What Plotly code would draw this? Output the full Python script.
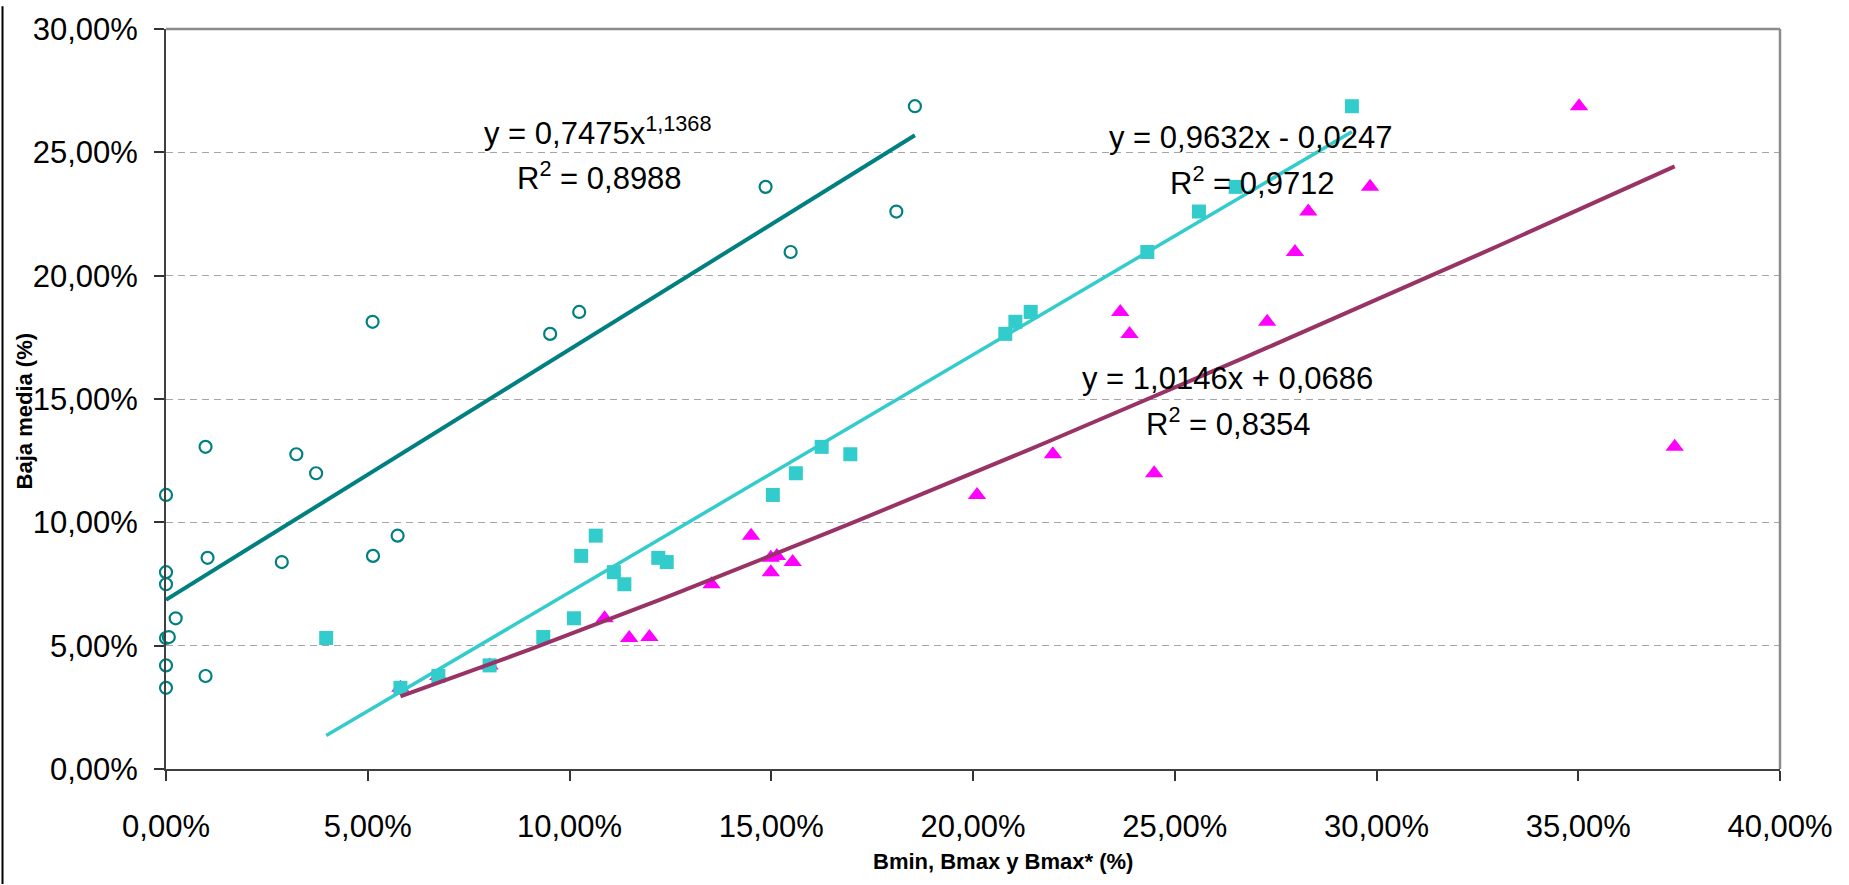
import numpy as np
import plotly.graph_objects as go

# ---------------- data (fractions) ----------------
baja_media = [0.0329, 0.0377, 0.0420, 0.0531, 0.0535, 0.0611, 0.0749, 0.0798,
              0.0839, 0.0856, 0.0864, 0.0946, 0.1111, 0.1199, 0.1276, 0.1306,
              0.1764, 0.1813, 0.1853, 0.2096, 0.2260, 0.2360, 0.2687]
bmin = [0.0000, 0.0098, 0.0000, 0.0000, 0.0007, 0.0024, 0.0000, 0.0000,
        0.0287, 0.0103, 0.0513, 0.0574, 0.0000, 0.0372, 0.0323, 0.0098,
        0.0952, 0.0512, 0.1024, 0.1548, 0.1810, 0.1486, 0.1856]
bmax = [0.0581, 0.0675, 0.0802, 0.0397, 0.0935, 0.1011, 0.1136, 0.1110,
        0.1241, 0.1220, 0.1029, 0.1065, 0.1504, 0.1561, 0.1696, 0.1625,
        0.2080, 0.2105, 0.2143, 0.2432, 0.2560, 0.2651, 0.2939]
bmax_star = [0.0581, 0.0675, 0.0802, 0.1148, 0.1198, 0.1087, 0.1352, 0.1499,
             0.1553, 0.1499, 0.1514, 0.1450, 0.2010, 0.2449, 0.2198, 0.3739,
             0.2388, 0.2729, 0.2365, 0.2798, 0.2831, 0.2984, 0.3502]

# trendline coefficients as printed on the chart
lin_bmin = (1.0146, 0.0686)      # y = a x + b
lin_bmax = (0.9632, -0.0247)     # y = a x + b
pow_bmax_star = (0.7475, 1.1368)  # y = a x^b

x_ticks = [0.00, 0.05, 0.10, 0.15, 0.20, 0.25, 0.30, 0.35, 0.40]
y_ticks = [0.00, 0.05, 0.10, 0.15, 0.20, 0.25, 0.30]

eq_texts = [
    "y = 0,7475x<sup>1,1368</sup>", "R<sup>2</sup> = 0,8988",
    "y = 0,9632x - 0,0247", "R<sup>2</sup> = 0,9712",
    "y = 1,0146x + 0,0686", "R<sup>2</sup> = 0,8354",
]
x_title = "Bmin, Bmax y Bmax* (%)"
y_title = "Baja media (%)"

# ---------------- layout geometry (pixels) ----------------
W, H = 1849, 885
L, R, T, B = 166, 1780, 23, 769
FONT = "Liberation Sans, Arial, sans-serif"


def pxx(p):
    return (p - L) / (R - L)


def pxy(p):
    return (B - p) / (B - T)


TEAL = "#008080"
CYAN = "#33CCCC"
PURPLE = "#993366"
MAGENTA = "#FF00FF"

fig = go.Figure()

fig.add_trace(go.Scatter(
    x=bmin, y=baja_media, mode="markers", cliponaxis=False,
    marker=dict(symbol="circle", size=12, color="white",
                line=dict(color=TEAL, width=2.2)),
    name="Bmin"))
fig.add_trace(go.Scatter(
    x=bmax_star, y=baja_media, mode="markers", cliponaxis=False,
    marker=dict(symbol="triangle-up", size=16, color=MAGENTA,
                line=dict(width=0)),
    name="Bmax*"))
fig.add_trace(go.Scatter(
    x=bmax, y=baja_media, mode="markers", cliponaxis=False,
    marker=dict(symbol="square", size=14, color=CYAN, line=dict(width=0)),
    name="Bmax"))

# trendlines over each series' x-range
xs = np.linspace(min(bmin), max(bmin), 60)
fig.add_trace(go.Scatter(x=xs, y=lin_bmin[0] * xs + lin_bmin[1], mode="lines",
                         line=dict(color=TEAL, width=4), cliponaxis=False))
xs = np.linspace(min(bmax), max(bmax), 60)
fig.add_trace(go.Scatter(x=xs, y=lin_bmax[0] * xs + lin_bmax[1], mode="lines",
                         line=dict(color=CYAN, width=3.5), cliponaxis=False))
xs = np.linspace(min(bmax_star), max(bmax_star), 60)
fig.add_trace(go.Scatter(x=xs, y=pow_bmax_star[0] * xs ** pow_bmax_star[1],
                         mode="lines", line=dict(color=PURPLE, width=4),
                         cliponaxis=False))

# equation labels: (center x px, baseline y px)
eq_pos = [(598, 139.5), (599, 185), (1251, 143.5), (1252, 190),
          (1227.5, 386.7), (1228, 432.7)]
annotations = []
for txt, (cx, base) in zip(eq_texts, eq_pos):
    annotations.append(dict(
        text=txt, x=pxx(cx), y=pxy(base + 8.6), xref="paper", yref="paper",
        xanchor="center", yanchor="bottom", showarrow=False,
        font=dict(family=FONT, size=31, color="black")))

annotations.append(dict(
    text=x_title, x=pxx(1003), y=pxy(862), xref="paper", yref="paper",
    xanchor="center", yanchor="middle", showarrow=False,
    font=dict(family=FONT, size=22, color="black", weight="bold")))
annotations.append(dict(
    text=y_title, x=pxx(24.5), y=pxy(408), xref="paper", yref="paper",
    xanchor="center", yanchor="middle", showarrow=False, textangle=-90,
    font=dict(family=FONT, size=22, color="black", weight="bold")))

shapes = [
    # plot-area border (top, right)
    dict(type="line", xref="paper", yref="paper", x0=0, x1=1, y0=1, y1=1,
         line=dict(color="#8c8c8c", width=2.5)),
    dict(type="line", xref="paper", yref="paper", x0=1, x1=1, y0=0, y1=1,
         line=dict(color="#8c8c8c", width=2.5)),
    # outer chart border on the left edge
    dict(type="line", xref="paper", yref="paper", x0=pxx(2.5), x1=pxx(2.5),
         y0=pxy(885), y1=pxy(0), line=dict(color="black", width=2)),
]

tickfont = dict(family=FONT, size=31, color="black")
fig.update_layout(
    width=W, height=H, autosize=False,
    margin=dict(l=L, r=W - R, t=T, b=H - B, pad=0),
    paper_bgcolor="white", plot_bgcolor="white",
    showlegend=False, separators=",.",
    annotations=annotations, shapes=shapes,
    xaxis=dict(range=[0, 0.40], tickvals=x_ticks, tickformat=".2%",
               ticks="outside", ticklen=10, tickwidth=1.5, tickcolor="#333333",
               showline=True, linecolor="#404040", linewidth=2,
               showgrid=False, zeroline=False, tickfont=tickfont,
               ticklabelstandoff=19),
    yaxis=dict(range=[0, 0.30], tickvals=y_ticks, tickformat=".2%",
               ticks="outside", ticklen=10, tickwidth=1.5, tickcolor="#333333",
               showline=True, linecolor="#404040", linewidth=2,
               showgrid=True, gridcolor="#a6a6a6", gridwidth=1,
               griddash="7px,5px", zeroline=False, tickfont=tickfont,
               ticklabelstandoff=10),
)

fig.write_html("out.html",
               config={"displayModeBar": False},
               post_script="document.body.style.margin='0';"
                           "document.body.style.overflow='hidden';")
